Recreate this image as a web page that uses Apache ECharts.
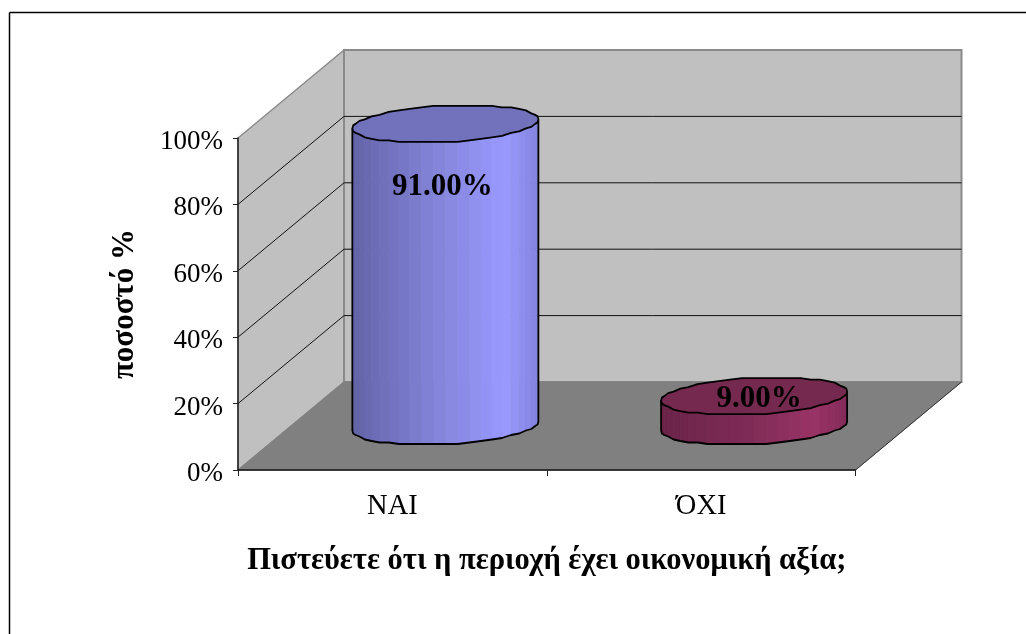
<!DOCTYPE html>
<html><head><meta charset="utf-8">
<style>html,body{margin:0;padding:0;background:#fff}#c{width:1026px;height:634px}</style>
<script src="https://cdn.jsdelivr.net/npm/echarts@6/dist/echarts.min.js"></script>
</head><body><div id="c"></div>
<script>
const categories = ['ΝΑΙ', 'ΌΧΙ'];
const percentValues = [91, 9];
const valueLabels = ['91.00%', '9.00%'];
const gridTicks = [20, 40, 60, 80];
const yAxisTitle = 'ποσοστό %';
const xAxisTitle = 'Πιστεύετε ότι η περιοχή έχει οικονομική αξία;';

const DEPTH_X = 106, DEPTH_Y = 88;
const RX = 93, RY = 18, TILT = 4.5, SEGMENTS = 24;
const FONT = '"Liberation Serif","Times New Roman",serif';
const ramps = [
  {stops: [[0,[98,98,165]],[0.12,[108,108,182]],[0.5,[135,135,222]],[0.82,[153,153,255]],[1,[132,132,222]]], top: '#7272BC'},
  {stops: [[0,[105,35,72]],[0.12,[112,38,76]],[0.5,[128,44,88]],[0.82,[153,51,102]],[1,[132,44,90]]], top: '#75294F'}
];
function rampColor(stops, u){
  for (let i = 1; i < stops.length; i++){
    if (u <= stops[i][0]){
      const a = stops[i-1], b = stops[i], f = (u-a[0])/(b[0]-a[0]);
      return 'rgb(' + [0,1,2].map(k => Math.round(a[1][k]+(b[1][k]-a[1][k])*f)).join(',') + ')';
    }
  }
  const l = stops[stops.length-1][1];
  return 'rgb(' + l.join(',') + ')';
}
function ringPoint(cx, cy, t){
  const dy = -TILT*Math.cos(t) + RY*Math.sin(t);
  return [cx + RX*Math.cos(t), cy + Math.round(dy/1.5)*1.5];
}
function renderWalls(params, api){
  const o = api.coord([0, 0]), top = api.coord([0, 100]);
  const band = api.size([1, 0])[0];
  const x0 = o[0] - band/2, x1 = x0 + band*categories.length, y0 = o[1], y1 = top[1];
  const bx0 = x0+DEPTH_X, bx1 = x1+DEPTH_X, by0 = y0-DEPTH_Y, by1 = y1-DEPTH_Y;
  return {type:'group', children:[
    {type:'polygon', shape:{points:[[x0,y0],[x0,y1],[bx0,by1],[bx0,by0]]}, style:{fill:'#C0C0C0', stroke:'#8A8A8A', lineWidth:1.5}},
    {type:'polygon', shape:{points:[[bx0,by0],[bx0,by1],[bx1,by1],[bx1,by0]]}, style:{fill:'#C0C0C0', stroke:'#8A8A8A', lineWidth:2}},
    {type:'polygon', shape:{points:[[x0,y0],[bx0,by0],[bx1,by0],[x1,y0]]}, style:{fill:'#808080', stroke:'#808080', lineWidth:1}},
    {type:'line', shape:{x1:x1,y1:y0,x2:bx1,y2:by0}, style:{stroke:'#333', lineWidth:1}}
  ]};
}
function renderGrid(params, api){
  const p = api.coord([0, api.value(1)]);
  const band = api.size([1, 0])[0];
  const x0 = p[0] - band/2, x1 = x0 + band*categories.length;
  return {type:'polyline', shape:{points:[[x0,p[1]],[x0+DEPTH_X,p[1]-DEPTH_Y],[x1+DEPTH_X,p[1]-DEPTH_Y]]},
    style:{stroke:'#111', lineWidth:1, fill:'none'}};
}
function renderCylinder(params, api){
  const idx = api.value(0), base = api.coord([idx, 0]), tip = api.coord([idx, api.value(1)]);
  const cx = base[0] + DEPTH_X/2, by = base[1] - DEPTH_Y/2, ty = tip[1] - DEPTH_Y/2;
  const ramp = ramps[idx];
  const kids = [];
  const front = [];
  for (let k = 0; k <= SEGMENTS; k++){
    const t = Math.PI - Math.PI*k/SEGMENTS;
    const t2 = Math.PI - Math.PI*(k+1)/SEGMENTS;
    if (k < SEGMENTS){
      const a = ringPoint(cx, ty, t), b = ringPoint(cx, ty, t2), c = ringPoint(cx, by, t2), d = ringPoint(cx, by, t);
      const u = ((a[0]+b[0])/2 - (cx-RX)) / (2*RX);
      const col = rampColor(ramp.stops, u);
      kids.push({type:'polygon', shape:{points:[a,b,c,d]}, style:{fill:col, stroke:col, lineWidth:0.6}});
    }
    front.push(ringPoint(cx, by, t));
  }
  const outline = [ringPoint(cx, ty, Math.PI)].concat(front, [ringPoint(cx, ty, 0)]);
  kids.push({type:'polyline', shape:{points:outline}, style:{stroke:'#000', lineWidth:1.8, fill:'none', lineJoin:'round'}});
  const cap = [];
  for (let k = 0; k < SEGMENTS*2; k++) cap.push(ringPoint(cx, ty, Math.PI*k/SEGMENTS));
  kids.push({type:'polygon', shape:{points:cap}, style:{fill:ramp.top, stroke:'#000', lineWidth:1.8, lineJoin:'round'}});
  return {type:'group', children:kids};
}
const labelShift = [[-3, 63], [5, 3]];
function renderLabel(params, api){
  const idx = api.value(0), base = api.coord([idx, 0]), tip = api.coord([idx, api.value(1)]);
  return {type:'text', style:{text:valueLabels[idx], x:base[0]+DEPTH_X/2+labelShift[idx][0], y:tip[1]-DEPTH_Y/2+labelShift[idx][1],
    align:'center', verticalAlign:'middle', fill:'#000', font:'bold 31px '+FONT}};
}
const chart = echarts.init(document.getElementById('c'), null, {renderer:'canvas'});
chart.setOption({
  animation:false,
  backgroundColor:'#fff',
  graphic:[
    {type:'line', shape:{x1:9.5,y1:12.5,x2:1026,y2:12.5}, style:{stroke:'#000', lineWidth:1.5}},
    {type:'line', shape:{x1:9.5,y1:12.5,x2:9.5,y2:634}, style:{stroke:'#000', lineWidth:1.5}}
  ],
  grid:{left:238, right:170.5, top:138, bottom:164},
  xAxis:{type:'category', data:categories, name:xAxisTitle, nameLocation:'middle', nameGap:76,
    nameTextStyle:{fontFamily:FONT, fontWeight:'bold', fontSize:30.5, color:'#000'},
    axisLine:{lineStyle:{color:'#111', width:1.5}}, axisTick:{show:true, length:6, lineStyle:{color:'#222', width:1}},
    axisLabel:{fontFamily:FONT, fontSize:28.5, color:'#000', margin:22}, z:5},
  yAxis:{type:'value', min:0, max:100, interval:20, name:yAxisTitle, nameLocation:'middle', nameGap:98, nameRotate:90,
    nameTextStyle:{fontFamily:FONT, fontWeight:'bold', fontSize:31, color:'#000'},
    axisLine:{show:true, lineStyle:{color:'#222', width:1.5}}, axisTick:{show:true, length:5, lineStyle:{color:'#222'}},
    splitLine:{show:false},
    axisLabel:{formatter:'{v|{value}%}', margin:15, rich:{v:{fontFamily:FONT, fontSize:27, color:'#000', padding:[8,0,0,0]}}}, z:5},
  series:[
    {type:'custom', coordinateSystem:'cartesian2d', renderItem:renderWalls, data:[[0,0]], z:1, silent:true},
    {type:'custom', coordinateSystem:'cartesian2d', renderItem:renderGrid, data:gridTicks.map(v=>[0,v]), z:2, silent:true},
    {type:'custom', coordinateSystem:'cartesian2d', renderItem:renderCylinder, data:percentValues.map((v,i)=>[i,v]), z:3, silent:true},
    {type:'custom', coordinateSystem:'cartesian2d', renderItem:renderLabel, data:percentValues.map((v,i)=>[i,v]), z:4, silent:true}
  ]
});
</script></body></html>
